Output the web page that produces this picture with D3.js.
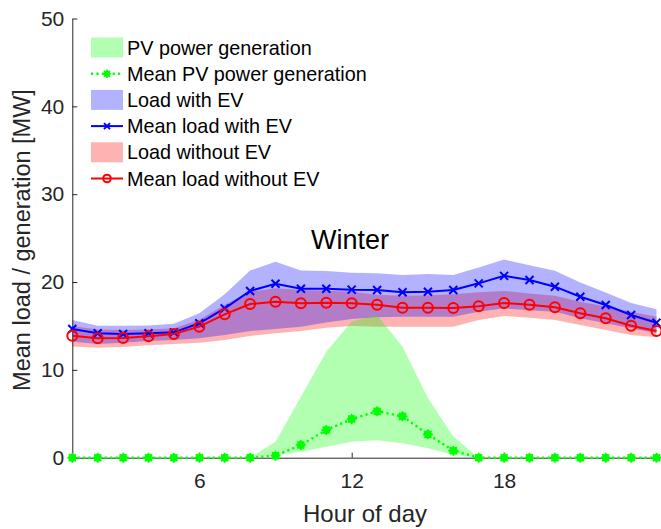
<!DOCTYPE html>
<html>
<head>
<meta charset="utf-8">
<script src="https://cdn.jsdelivr.net/npm/d3@7/dist/d3.min.js"></script>
<style>
  html, body { margin: 0; padding: 0; background: #fff; }
  svg { display: block; font-family: "Liberation Sans", Arial, Helvetica, sans-serif; }
</style>
</head>
<body>
<svg id="chart" width="661" height="529"></svg>
<script>
// ---- data ----
const hours = [1,2,3,4,5,6,7,8,9,10,11,12,13,14,15,16,17,18,19,20,21,22,23,24];
const pvUpper = [0,0,0,0,0,0,0,0,1.82,6.95,12.07,15.5,16.25,12.64,6.8,2.4,0,0,0,0,0,0,0,0];
const pvLower = [0,0,0,0,0,0,0,0,0.3,0.68,1.25,1.82,2.0,1.64,1.07,0.3,0,0,0,0,0,0,0,0];
const pvMean  = [0,0,0,0,0,0,0,0,0.23,1.45,3.15,4.4,5.28,4.71,2.66,0.8,0,0,0,0,0,0,0,0];
const evUpper = [15.68,15.03,15.03,15.05,15.25,16.44,18.6,21.3,22.3,21.3,21.25,21.06,21.0,20.8,20.9,20.8,21.65,22.55,21.92,21.27,19.95,18.8,17.6,16.9];
const evLower = [13.2,12.95,13.1,13.28,13.4,13.6,13.97,14.42,14.65,14.9,15.4,15.8,16.0,16.05,16.05,16.05,16.62,17.0,16.8,16.62,15.87,15.3,14.73,14.16];
const evMean  = [14.65,14.16,14.08,14.16,14.27,15.3,17.0,18.98,19.8,19.24,19.24,19.13,19.09,18.83,18.9,19.09,19.85,20.7,20.23,19.47,18.33,17.38,16.25,15.37];
const noUpper = [15.0,14.6,14.55,14.6,14.75,15.7,17.4,18.9,19.3,19.1,19.0,18.9,18.55,18.45,18.5,18.6,18.83,18.98,18.7,18.45,17.76,17.2,16.62,16.05];
const noLower = [12.65,12.52,12.6,12.8,12.95,13.1,13.4,13.86,14.16,14.42,14.8,15.0,14.9,14.9,14.9,14.9,15.68,16.13,15.94,15.68,15.1,14.54,13.97,13.7];
const noMean  = [13.89,13.59,13.63,13.82,14.08,14.92,16.32,17.5,17.76,17.57,17.65,17.57,17.42,17.08,17.08,17.04,17.23,17.61,17.42,17.12,16.44,15.87,15.03,14.42];
const xTicks = [6,12,18];
const yTicks = [0,10,20,30,40,50];
const legendLabels = ["PV power generation","Mean PV power generation","Load with EV","Mean load with EV","Load without EV","Mean load without EV"];
const title = "Winter";
const xLabel = "Hour of day";
const yLabel = "Mean load / generation [MW]";

// ---- layout ----
const svg = d3.select("#chart");
const x = d3.scaleLinear().domain([1,24]).range([72.3, 656.5]);
const y = d3.scaleLinear().domain([0,50]).range([457.7, 18.5]);
const axisColor = "#262626";

const GREEN = "#00ff00", BLUE = "#0000ff", RED = "#ff0000";

function band(upper, lower) {
  return d3.area().x((d,i)=>x(hours[i])).y0((d,i)=>y(lower[i])).y1((d,i)=>y(upper[i]))(hours);
}
function lineOf(vals) {
  return d3.line().x((d,i)=>x(hours[i])).y((d,i)=>y(vals[i]))(hours);
}

// bands
svg.append("path").attr("d", band(noUpper, noLower)).attr("fill", RED).attr("fill-opacity", 0.3);
svg.append("path").attr("d", band(evUpper, evLower)).attr("fill", BLUE).attr("fill-opacity", 0.3);
svg.append("path").attr("d", band(pvUpper, pvLower)).attr("fill", GREEN).attr("fill-opacity", 0.3);

// axes
const gy = svg.append("g").attr("transform", `translate(${x.range()[0]},0)`)
  .call(d3.axisLeft(y).tickValues(yTicks).tickSize(-5).tickSizeOuter(0).tickPadding(8));
const gx = svg.append("g").attr("transform", `translate(0,${y(0)})`)
  .call(d3.axisBottom(x).tickValues(xTicks).tickSize(-5).tickSizeOuter(0).tickPadding(15));
[gx, gy].forEach(g => {
  g.selectAll("path.domain").attr("stroke", axisColor).attr("stroke-width", 1);
  g.selectAll(".tick line").attr("stroke", axisColor).attr("stroke-width", 1);
  g.selectAll(".tick text").attr("fill", axisColor).attr("font-size", 21)
    .attr("font-family", '"Liberation Sans", Arial, sans-serif');
});

// mean lines
function drawX(g, cx, cy, s) {
  g.append("path").attr("d", `M${cx-s},${cy-s}L${cx+s},${cy+s}M${cx-s},${cy+s}L${cx+s},${cy-s}`)
    .attr("stroke", BLUE).attr("stroke-width", 2).attr("fill", "none");
}
function drawDot(g, cx, cy, r) {
  g.append("circle").attr("cx", cx).attr("cy", cy).attr("r", r).attr("fill", GREEN);
  const s = r + 1;
  g.append("path").attr("d", `M${cx-s},${cy}L${cx+s},${cy}M${cx},${cy-s}L${cx},${cy+s}M${cx-s*0.7},${cy-s*0.7}L${cx+s*0.7},${cy+s*0.7}M${cx-s*0.7},${cy+s*0.7}L${cx+s*0.7},${cy-s*0.7}`)
    .attr("stroke", GREEN).attr("stroke-width", 1.6);
}

svg.append("path").attr("d", lineOf(evMean)).attr("fill","none").attr("stroke", BLUE).attr("stroke-width", 2);
const gEv = svg.append("g");
hours.forEach((h,i)=>drawX(gEv, x(h), y(evMean[i]), 4));

svg.append("path").attr("d", lineOf(noMean)).attr("fill","none").attr("stroke", RED).attr("stroke-width", 2);
svg.append("g").selectAll("circle").data(hours).join("circle")
  .attr("cx", d=>x(d)).attr("cy", (d,i)=>y(noMean[i])).attr("r", 5)
  .attr("fill","none").attr("stroke", RED).attr("stroke-width", 2);

svg.append("path").attr("d", lineOf(pvMean)).attr("fill","none").attr("stroke", GREEN)
  .attr("stroke-width", 2.4).attr("stroke-dasharray", "2.2,3.2");
const gPv = svg.append("g");
hours.forEach((h,i)=>drawDot(gPv, x(h), y(pvMean[i]), 4));

// title & labels
svg.append("text").attr("x", 350).attr("y", 249).attr("text-anchor","middle")
  .attr("font-size", 27).attr("fill", "#000").text(title);
svg.append("text").attr("x", 365).attr("y", 522).attr("text-anchor","middle")
  .attr("font-size", 24).attr("fill", axisColor).text(xLabel);
svg.append("text").attr("transform", `translate(30,240) rotate(-90)`).attr("text-anchor","middle")
  .attr("font-size", 23.5).attr("fill", axisColor).text(yLabel);

// legend
const legY0 = 47.5, legDy = 26.2, ix0 = 91, ix1 = 123, tx = 127;
const lg = svg.append("g");
legendLabels.forEach((lab, k) => {
  const cy = legY0 + k*legDy;
  const cx = (ix0+ix1)/2;
  if (k === 0 || k === 2 || k === 4) {
    const col = k===0 ? GREEN : (k===2 ? BLUE : RED);
    lg.append("rect").attr("x", ix0).attr("y", cy-10).attr("width", ix1-ix0).attr("height", 20)
      .attr("fill", col).attr("fill-opacity", 0.3);
  } else if (k === 1) {
    lg.append("line").attr("x1", ix0).attr("x2", ix1).attr("y1", cy).attr("y2", cy)
      .attr("stroke", GREEN).attr("stroke-width", 2.4).attr("stroke-dasharray", "2.2,3.2");
    drawDot(lg, cx, cy, 3.2);
  } else if (k === 3) {
    lg.append("line").attr("x1", ix0).attr("x2", ix1).attr("y1", cy).attr("y2", cy)
      .attr("stroke", BLUE).attr("stroke-width", 2);
    drawX(lg, cx, cy, 3);
  } else {
    lg.append("line").attr("x1", ix0).attr("x2", ix1).attr("y1", cy).attr("y2", cy)
      .attr("stroke", RED).attr("stroke-width", 2);
    lg.append("circle").attr("cx", cx).attr("cy", cy).attr("r", 3.8)
      .attr("fill", "none").attr("stroke", RED).attr("stroke-width", 2);
  }
  lg.append("text").attr("x", tx).attr("y", cy).attr("dy", "0.36em")
    .attr("font-size", 19.8).attr("fill", "#000").text(lab);
});
</script>
</body>
</html>
